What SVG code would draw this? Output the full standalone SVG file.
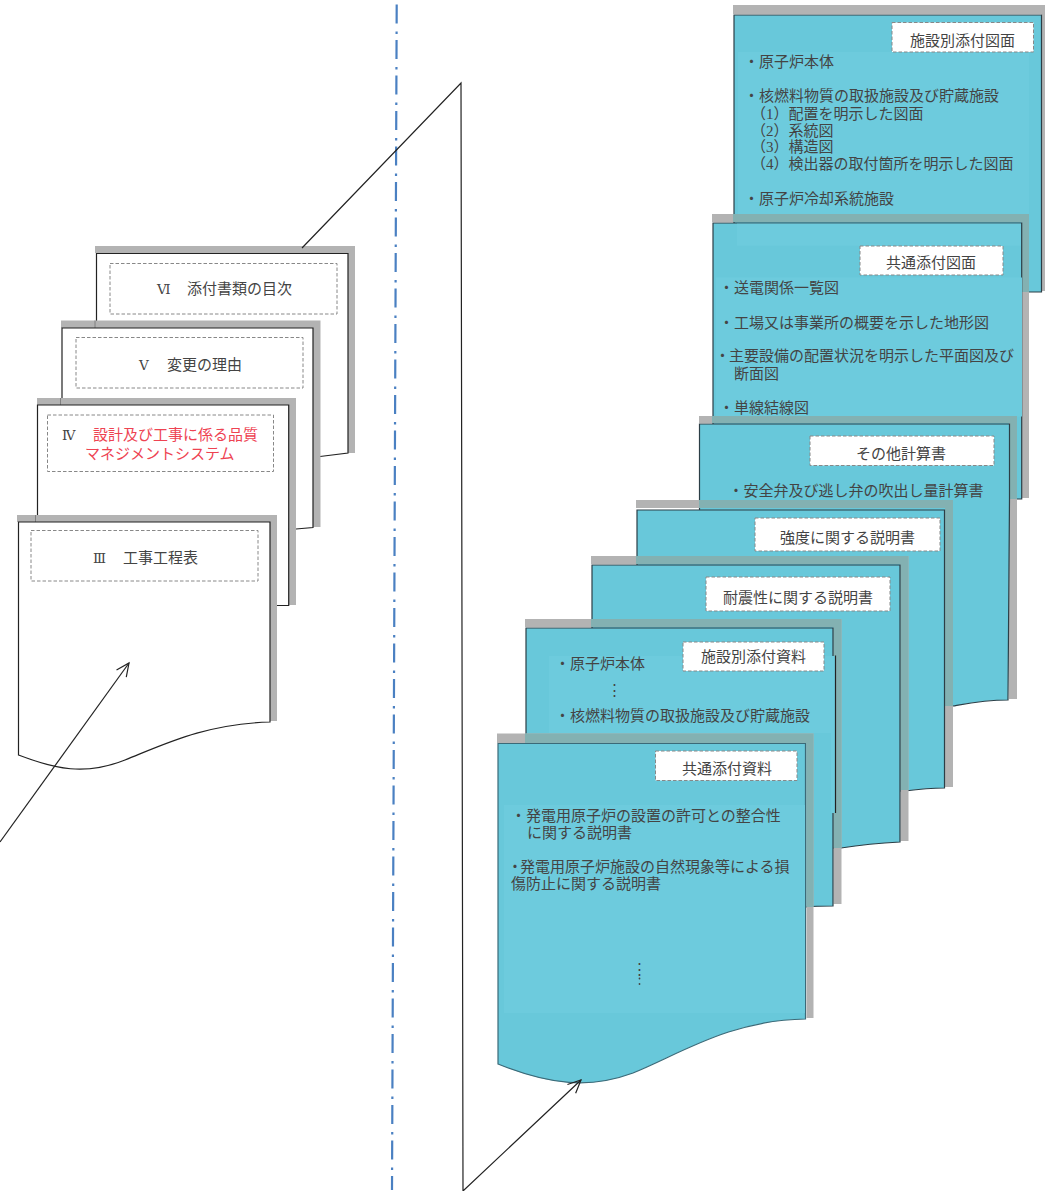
<svg xmlns="http://www.w3.org/2000/svg" width="1045" height="1191" viewBox="0 0 1045 1191">
<style>
text{font-family:"Liberation Serif","Noto Sans CJK JP",serif;font-size:15px;fill:#444;font-weight:400}
.num{font-family:"DejaVu Serif","Noto Sans CJK JP",serif;font-size:13.500px}
.sh{fill:#b3b3b3}
.ov{fill:#83b1b2}
.pg{fill:#fff;stroke:#222;stroke-width:1.2}
.bl{fill:#68c8da;stroke:#2c3e46;stroke-width:1.2}
.pn{fill:#6dcbdd}
.lb{fill:#fff;stroke:#888;stroke-width:1;stroke-dasharray:3.500 2}
.red{fill:#ee4352}
.cn{fill:none;stroke:#222;stroke-width:1.2}
.tk{fill:none;stroke:#808080;stroke-width:1}
</style>
<defs>
<marker id="ah" markerUnits="userSpaceOnUse" markerWidth="18" markerHeight="18" refX="14" refY="7" orient="auto" overflow="visible"><path d="M1,1 L14,7 L1,13" fill="none" stroke="#222" stroke-width="1.2"/></marker>
</defs>

<path id="axis" d="M396.700,4.500 L392,1190" fill="none" stroke="#4a80c2" stroke-width="2.200" stroke-dasharray="19 8 2.500 6"/>

<g id="doc-VI">
<path class="sh" d="M95,246H355V453H348V253H95Z"/>
<path class="pg" d="M96.500,253.500H348V453L320,456.500H96.500Z"/>
<rect class="lb" x="110" y="263.500" width="227" height="50.500"/>
<text y="294"><tspan class="num" x="157">Ⅵ</tspan><tspan x="187">添付書類の目次</tspan></text>
</g>
<g id="doc-V">
<path class="sh" d="M61,320.500H320.500V527H313V328H61Z"/>
<path class="tk" d="M95,320.500V328"/>
<path class="pg" d="M62,328H313V527.500L296,529H62Z"/>
<rect class="lb" x="76" y="337.500" width="227" height="50.500"/>
<text y="369.500"><tspan class="num" x="139">Ⅴ</tspan><tspan x="167">変更の理由</tspan></text>
</g>
<g id="doc-IV">
<path class="sh" d="M37,398H296V605H288.700V405H37Z"/>
<path class="tk" d="M60.500,398V405"/>
<path class="pg" d="M37.500,405H288.700V605.500H37.500Z"/>
<rect class="lb" x="47.500" y="415" width="226" height="56.500"/>
<text y="439.500"><tspan class="num" x="62">Ⅳ</tspan><tspan class="red" x="93">設計及び工事に係る品質</tspan></text>
<text class="red" x="85" y="458.500">マネジメントシステム</text>
</g>
<g id="doc-III">
<path class="sh" d="M17,515H277V721H270V522H17Z"/>
<path class="tk" d="M35.500,515V522"/>
<path class="pg" d="M18.500,522H270V722C205,724 165,744 125,760C85,776 55,769 18.500,755Z"/>
<rect class="lb" x="31" y="530.500" width="227" height="50.500"/>
<text y="562.500"><tspan class="num" x="93">Ⅲ</tspan><tspan x="123">工事工程表</tspan></text>
</g>

<g id="doc-A">
<path class="sh" d="M733,5H1045V291H1041.500V14H733Z"/>
<path class="bl" d="M734,15H1041.500V292H734Z"/>
<rect class="pn" x="738" y="52" width="291" height="162"/>
<rect class="lb" x="892" y="22.500" width="141.500" height="29.500"/>
<text x="910" y="45.500">施設別添付図面</text>
<text x="744" y="66.500">・原子炉本体</text>
<text x="744" y="100.500">・核燃料物質の取扱施設及び貯蔵施設</text>
<text x="751" y="118.500">（1）配置を明示した図面</text>
<text x="751" y="135.500">（2）系統図</text>
<text x="751" y="151.500">（3）構造図</text>
<text x="751" y="168.500">（4）検出器の取付箇所を明示した図面</text>
<text x="744" y="203.500">・原子炉冷却系統施設</text>
</g>

<g id="doc-B">
<path class="sh" d="M712,214H1029V498H1021.700V222H712Z"/>
<rect class="ov" x="733" y="214" width="296" height="8"/>
<rect class="ov" x="1021.700" y="222" width="7.300" height="70"/>
<path class="bl" d="M713,223H1021.700V499H713Z"/>
<rect class="pn" x="737" y="223.700" width="284" height="22"/>
<rect class="pn" x="716" y="277.500" width="306" height="139"/>
<rect class="lb" x="860" y="246" width="143" height="29"/>
<text x="886" y="267.500">共通添付図面</text>
<text x="719" y="293">・送電関係一覧図</text>
<text x="719" y="327.500">・工場又は事業所の概要を示した地形図</text>
<text x="715" y="360.500"><tspan letter-spacing="-1">・</tspan>主要設備の配置状況を明示した平面図及び</text>
<text x="734" y="378.500">断面図</text>
<text x="719" y="412.500">・単線結線図</text>
</g>

<g id="doc-C">
<path class="sh" d="M699,416H1017V699H1009V423H699Z"/>
<rect class="ov" x="712" y="416" width="305" height="7"/>
<rect class="ov" x="1010" y="423" width="7" height="76"/>
<path class="bl" d="M699.500,424H1009.500V498L1008,700C985,700 970,703 953,706H699.500Z"/>
<rect class="lb" x="810" y="436" width="184" height="29.500"/>
<text x="856" y="459">その他計算書</text>
<text x="728.500" y="495.500">・安全弁及び逃し弁の吹出し量計算書</text>
</g>

<g id="doc-D">
<path class="sh" d="M636,500H953V787H945V508H636Z"/>
<rect class="ov" x="699" y="500" width="254" height="8"/>
<rect class="ov" x="945" y="508" width="8" height="198"/>
<path class="bl" d="M637,510H944.500V788C930,788 920,789 905,791H637Z"/>
<rect class="lb" x="755" y="518" width="185" height="33"/>
<text x="780" y="542.500">強度に関する説明書</text>
</g>

<g id="doc-E">
<path class="sh" d="M591,556H908.500V841H900.500V564H591Z"/>
<rect class="ov" x="636" y="556" width="272.500" height="8"/>
<rect class="ov" x="900.500" y="564" width="8" height="226"/>
<path class="bl" d="M592,565H900V842C880,843 860,845 841,848H592Z"/>
<rect class="lb" x="706" y="577" width="184" height="34"/>
<text x="723" y="602.500">耐震性に関する説明書</text>
</g>

<g id="doc-F">
<path class="sh" d="M525,619H841.500V904H833.500V627H525Z"/>
<rect class="ov" x="591" y="619" width="250.500" height="8"/>
<rect class="ov" x="833.500" y="627" width="8" height="221"/>
<path class="bl" d="M526,628H833V906C825,906 815,906 806,907H526Z"/>
<rect class="pn" x="549" y="656" width="286" height="77"/>
<rect class="pn" x="831" y="733" width="4" height="80"/>
<path class="cn" d="M835.500,655.500V813"/>
<rect class="lb" x="683" y="642" width="141" height="29"/>
<text x="701" y="661.500">施設別添付資料</text>
<text x="555" y="668.500">・原子炉本体</text>
<text x="607" y="694.500">⋮</text>
<text x="555" y="720.500">・核燃料物質の取扱施設及び貯蔵施設</text>
</g>

<g id="doc-G">
<path class="sh" d="M497,733.500H813.500V1018H806.500V743H497Z"/>
<rect class="ov" x="525" y="733.500" width="288.500" height="9.500"/>
<rect class="ov" x="806.500" y="743" width="7" height="164"/>
<path class="bl" style="stroke:#3b6a78" d="M498,743.500H805.500V1019C730,1020 680,1054 633,1073C590,1089 550,1085 498,1064Z"/>
<rect class="pn" x="504" y="805" width="301" height="208"/>
<rect class="lb" x="655.500" y="751" width="141.500" height="29.500"/>
<text x="682" y="773.500">共通添付資料</text>
<text x="511" y="820.500">・発電用原子炉の設置の許可との整合性</text>
<text x="527" y="837.500">に関する説明書</text>
<text x="507.500" y="871.500"><tspan letter-spacing="-2.500">・</tspan>発電用原子炉施設の自然現象等による損</text>
<text x="511" y="888.500">傷防止に関する説明書</text>
<text x="632" y="973.500">⋮</text>
<circle cx="639.500" cy="978.500" r="0.900" fill="#444"/>
<circle cx="639.500" cy="984" r="0.900" fill="#444"/>
</g>

<g id="connectors">
<path class="cn" d="M302,248L461,83L463,1191L581,1080" marker-end="url(#ah)"/>
<path class="cn" d="M0,842L129,663" marker-end="url(#ah)"/>
</g>
</svg>
